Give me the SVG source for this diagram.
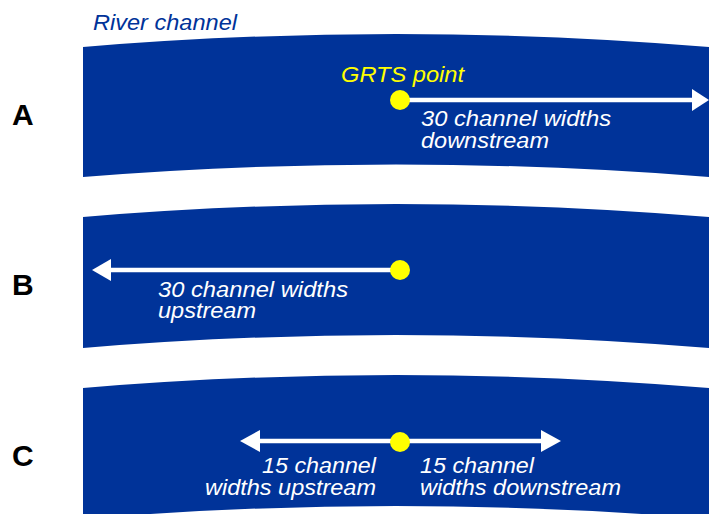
<svg xmlns="http://www.w3.org/2000/svg" width="709" height="514" viewBox="0 0 709 514">
  <style>
    .band { fill: #003399; }
    .dot { fill: #FFFF00; }
    .lbl { font-family: "Liberation Sans", Arial, sans-serif; font-weight: bold; font-size: 30px; fill: #000; }
    .wt { font-family: "Liberation Sans", Arial, sans-serif; font-style: italic; font-size: 22px; fill: #FFFFFF; }
    .yt { font-family: "Liberation Sans", Arial, sans-serif; font-style: italic; font-size: 22px; fill: #FFFF00; }
    .bt { font-family: "Liberation Sans", Arial, sans-serif; font-style: italic; font-size: 22px; fill: #003399; }
    .shaft { stroke: #FFFFFF; stroke-width: 4.5; fill: none; }
    .head { fill: #FFFFFF; }
  </style>
  <rect width="709" height="514" fill="#FFFFFF"/>

  <g id="channelA">
    <path class="band" d="M83,47 Q396,21 709,47 L709,177 Q396,152 83,177 Z"/>
  </g>
  <g id="channelB">
    <path class="band" d="M83,217 Q396,191 709,217 L709,348 Q396,322 83,348 Z"/>
  </g>
  <g id="channelC">
    <path class="band" d="M83,388 Q396,362 709,388 L709,519 Q396,493 83,519 Z"/>
  </g>

  <g id="title">
    <text class="bt" x="93" y="30" textLength="144" lengthAdjust="spacingAndGlyphs">River channel</text>
  </g>

  <g id="labelA"><text class="lbl" x="12" y="125">A</text></g>
  <g id="labelB"><text class="lbl" x="12" y="295">B</text></g>
  <g id="labelC"><text class="lbl" x="12" y="466">C</text></g>

  <g id="connectors">
    <line class="shaft" x1="400" y1="100" x2="694" y2="100"/>
    <polygon class="head" points="692,89 709,100 692,111"/>
    <line class="shaft" x1="109" y1="270" x2="400" y2="270"/>
    <polygon class="head" points="92,270 111,259 111,281"/>
    <line class="shaft" x1="258" y1="441" x2="543" y2="441"/>
    <polygon class="head" points="240,441 260,430 260,452"/>
    <polygon class="head" points="561,441 541,430 541,452"/>
  </g>

  <g id="pointA">
    <circle class="dot" cx="400" cy="100" r="10"/>
    <text class="yt" x="341" y="82" textLength="123" lengthAdjust="spacingAndGlyphs">GRTS point</text>
    <text class="wt" x="421" y="126" textLength="190" lengthAdjust="spacingAndGlyphs">30 channel widths</text>
    <text class="wt" x="421" y="148" textLength="128" lengthAdjust="spacingAndGlyphs">downstream</text>
  </g>
  <g id="pointB">
    <circle class="dot" cx="400" cy="270" r="10"/>
    <text class="wt" x="158" y="297" textLength="190" lengthAdjust="spacingAndGlyphs">30 channel widths</text>
    <text class="wt" x="158" y="318" textLength="98" lengthAdjust="spacingAndGlyphs">upstream</text>
  </g>
  <g id="pointC">
    <circle class="dot" cx="400" cy="442" r="10"/>
    <text class="wt" x="262" y="473" textLength="114" lengthAdjust="spacingAndGlyphs">15 channel</text>
    <text class="wt" x="205" y="495" textLength="171" lengthAdjust="spacingAndGlyphs">widths upstream</text>
    <text class="wt" x="420" y="473" textLength="114" lengthAdjust="spacingAndGlyphs">15 channel</text>
    <text class="wt" x="420" y="495" textLength="201" lengthAdjust="spacingAndGlyphs">widths downstream</text>
  </g>
</svg>
